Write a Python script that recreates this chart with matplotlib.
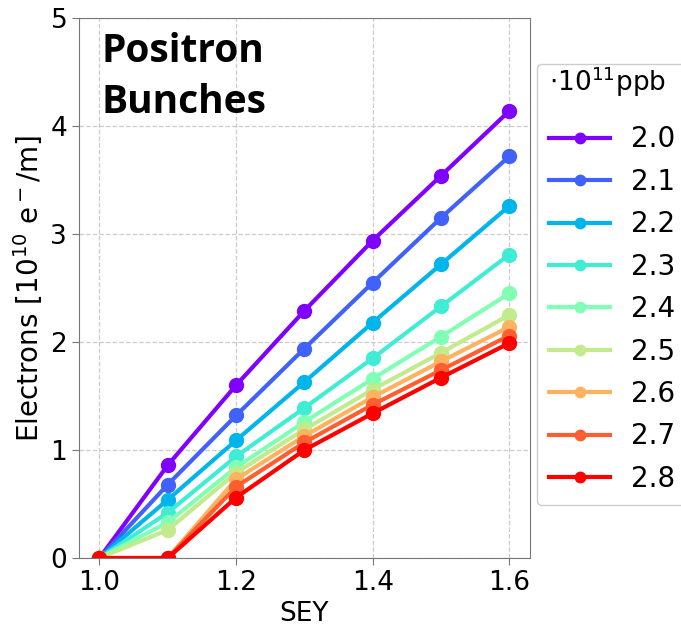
"""SEY scan of electron-cloud line density for positron bunches at several bunch intensities."""

import matplotlib

matplotlib.use("Agg")
import matplotlib.pyplot as plt
import numpy as np

SEY = [1.0, 1.1, 1.2, 1.3, 1.4, 1.5, 1.6]
INTENSITY_LABELS = ["2.0", "2.1", "2.2", "2.3", "2.4", "2.5", "2.6", "2.7", "2.8"]

# Electrons [1e10 e-/m] per bunch intensity
E_20 = [0.0, 0.86, 1.60, 2.29, 2.94, 3.54, 4.14]
E_21 = [0.0, 0.68, 1.32, 1.94, 2.55, 3.15, 3.72]
E_22 = [0.0, 0.54, 1.09, 1.63, 2.18, 2.72, 3.26]
E_23 = [0.0, 0.42, 0.94, 1.39, 1.85, 2.33, 2.81]
E_24 = [0.0, 0.33, 0.84, 1.26, 1.66, 2.05, 2.45]
E_25 = [0.0, 0.26, 0.79, 1.19, 1.56, 1.90, 2.25]
E_26 = [0.0, 0.0, 0.73, 1.13, 1.49, 1.82, 2.14]
E_27 = [0.0, 0.0, 0.66, 1.07, 1.42, 1.74, 2.06]
E_28 = [0.0, 0.0, 0.56, 1.00, 1.34, 1.67, 1.99]

SERIES = [E_20, E_21, E_22, E_23, E_24, E_25, E_26, E_27, E_28]

fig = plt.figure(figsize=(6.81, 6.26), dpi=100)
ax = fig.add_axes([0.116, 0.1086, 0.662, 0.8626])

colors = plt.cm.rainbow(np.linspace(0, 1, len(SERIES)))
for values, label, color in zip(SERIES, INTENSITY_LABELS, colors):
    ax.plot(SEY, values, marker="o", color=color, lw=3, ms=10, label=label)

ax.set_ylim(0, 5)
ax.set_yticks([0, 1, 2, 3, 4, 5])
ax.set_xticks([1.0, 1.2, 1.4, 1.6])
ax.set_xlabel("SEY", fontsize=19)
ax.set_ylabel(r"Electrons [$10^{10}$ e$^-$/m]", fontsize=20)
ax.tick_params(labelsize=19, color="#777777", length=5)
ax.grid(True, ls="--", color="#cccccc", lw=0.9)
for spine in ax.spines.values():
    spine.set_color("#777777")

ax.text(0.05, 0.975, "Positron\nBunches", transform=ax.transAxes,
        fontsize=28, fontweight="bold", family="Open Sans",
        va="top", ha="left", linespacing=1.42)

leg = ax.legend(title=r"$\cdot10^{11}$ppb", loc="upper left",
                bbox_to_anchor=(1.015, 0.915), fontsize=20, title_fontsize=19,
                handlelength=2.2, handletextpad=0.75, labelspacing=0.52,
                borderaxespad=0, borderpad=0.45, markerscale=0.75,
                alignment="left", framealpha=1, edgecolor="#cccccc",
                fancybox=True)
# pull the title up towards the frame so it sits apart from the entries
leg.get_title().set_y(12)

fig.savefig("out.png", dpi=100)
